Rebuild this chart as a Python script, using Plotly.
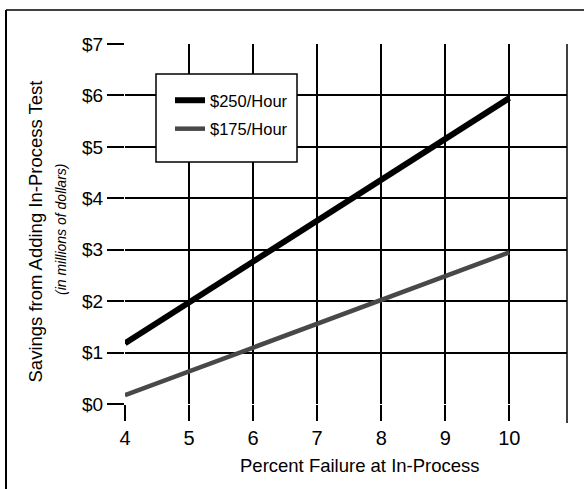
import plotly.graph_objects as go

# Failure rate at in-process test (percent)
failure_pct = [4, 10]

# Savings from adding in-process test, millions of dollars
savings_250 = [1.18, 5.95]
savings_175 = [0.17, 2.95]

series_names = ["$250/Hour", "$175/Hour"]
x_ticks = [4, 5, 6, 7, 8, 9, 10]
y_ticks = [0, 1, 2, 3, 4, 5, 6, 7]
y_tick_text = ["$0", "$1", "$2", "$3", "$4", "$5", "$6", "$7"]

FONT = "Liberation Sans, Arial, sans-serif"

fig = go.Figure()
fig.add_trace(go.Scatter(
    x=failure_pct, y=savings_250, mode="lines", name=series_names[0],
    line=dict(color="#000000", width=6), legendgroup="a",
))
fig.add_trace(go.Scatter(
    x=failure_pct, y=savings_175, mode="lines", name=series_names[1],
    line=dict(color="#484848", width=4.5), legendgroup="b",
))

# plot area spans 442 x 360 px; helpers convert pixel offsets to paper units
W, H, L, T = 442.0, 360.0, 125.0, 44.0
def px(x):
    return (x - L) / W
def py(y):
    return (T + H - y) / H

shapes = [
    # outer frame (top and left edges)
    dict(type="line", xref="paper", yref="paper", x0=px(6), x1=px(590), y0=py(10), y1=py(10),
         line=dict(color="black", width=1.5)),
    dict(type="line", xref="paper", yref="paper", x0=px(6), x1=px(6), y0=py(10), y1=py(495),
         line=dict(color="black", width=2)),
    # right edge of the grid, running past the baseline
    dict(type="line", xref="paper", yref="paper", x0=1, x1=1, y0=1, y1=py(423),
         line=dict(color="black", width=1.5)),
    # legend box
    dict(type="rect", xref="paper", yref="paper", x0=px(156), x1=px(297), y0=py(162), y1=py(74),
         fillcolor="white", line=dict(color="black", width=1.5), layer="above"),
]

annotations = [
    dict(text="Savings from Adding In-Process Test", xref="paper", yref="paper",
         x=px(35.5), y=py(232), textangle=-90, showarrow=False,
         font=dict(family=FONT, size=18.5, color="black"), xanchor="center", yanchor="middle"),
    dict(text="<i>(in millions of dollars)</i>", xref="paper", yref="paper",
         x=px(61), y=py(230), textangle=-90, showarrow=False,
         font=dict(family=FONT, size=14, color="black"), xanchor="center", yanchor="middle"),
    dict(text="Percent Failure at In-Process", xref="paper", yref="paper",
         x=px(359.5), y=py(465), showarrow=False,
         font=dict(family=FONT, size=18.5, color="black"), xanchor="center", yanchor="middle"),
]

fig.update_layout(
    width=584, height=489,
    margin=dict(l=125, r=17, t=44, b=85),
    paper_bgcolor="white", plot_bgcolor="white",
    showlegend=True,
    legend=dict(
        x=px(170), y=py(83), xanchor="left", yanchor="top",
        bgcolor="rgba(0,0,0,0)", borderwidth=0,
        font=dict(family=FONT, size=16.5, color="black"),
        tracegroupgap=4, itemwidth=30,
    ),
    shapes=shapes,
    annotations=annotations,
)

fig.update_xaxes(
    range=[4, 10.9], tickvals=x_ticks, ticktext=[str(v) for v in x_ticks],
    showgrid=True, gridcolor="black", gridwidth=1.5,
    ticks="outside", ticklen=16, tickwidth=1.5, tickcolor="black",
    showline=False, zeroline=False,
    tickfont=dict(family=FONT, size=20, color="black"),
)
fig.update_yaxes(
    range=[0, 7], tickvals=y_ticks, ticktext=y_tick_text,
    showgrid=True, gridcolor="black", gridwidth=1.5,
    ticks="outside", ticklen=17, tickwidth=1.5, tickcolor="black",
    showline=False, zeroline=False,
    tickfont=dict(family=FONT, size=19, color="black"),
)

fig.write_html("out.html")
